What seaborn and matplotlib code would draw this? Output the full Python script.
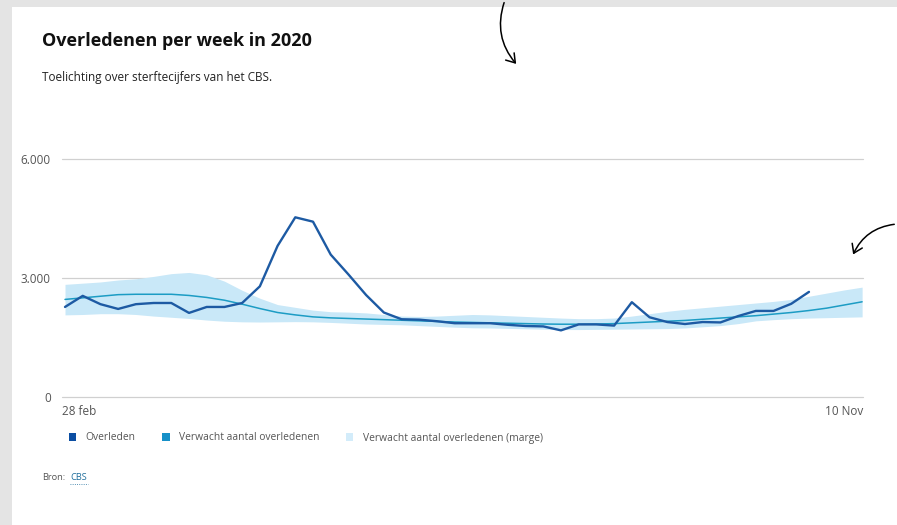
import numpy as np
import pandas as pd
import seaborn as sns
import matplotlib.pyplot as plt
from matplotlib.patches import Patch, Rectangle, FancyArrowPatch
from matplotlib.lines import Line2D

# weekly values
overleden = [2270, 2550, 2340, 2220, 2340, 2370, 2370, 2120, 2270, 2270,
             2370, 2790, 3810, 4530, 4420, 3590, 3090, 2570, 2130, 1960,
             1950, 1910, 1860, 1860, 1860, 1820, 1790, 1780, 1680, 1830,
             1830, 1800, 2390, 2010, 1890, 1840, 1890, 1880, 2040, 2170,
             2170, 2350, 2650]
verwacht = [2460, 2500, 2540, 2580, 2590, 2590, 2590, 2560, 2510, 2440,
            2340, 2230, 2130, 2070, 2020, 1995, 1980, 1965, 1950, 1935,
            1920, 1905, 1890, 1880, 1870, 1860, 1850, 1840, 1835, 1835,
            1840, 1850, 1870, 1890, 1910, 1930, 1960, 1990, 2020, 2050,
            2090, 2130, 2180, 2240, 2320, 2400]
marge_hoog = [2840, 2870, 2900, 2950, 2980, 3040, 3110, 3140, 3080, 2920,
              2690, 2490, 2330, 2260, 2190, 2150, 2140, 2120, 2080, 2040,
              2030, 2040, 2060, 2080, 2070, 2050, 2030, 2010, 1990, 1975,
              1975, 1990, 2040, 2100, 2160, 2210, 2250, 2290, 2330, 2370,
              2410, 2460, 2540, 2620, 2700, 2770]
marge_laag = [2070, 2080, 2100, 2100, 2080, 2040, 2010, 1980, 1940, 1910,
              1895, 1890, 1895, 1900, 1895, 1880, 1860, 1840, 1830, 1820,
              1800, 1780, 1760, 1745, 1740, 1730, 1720, 1710, 1700, 1700,
              1705, 1710, 1715, 1720, 1725, 1740, 1770, 1800, 1850, 1920,
              1950, 1975, 1990, 2000, 2010, 2020]
x_labels = ['28 feb', '10 Nov']
y_ticks = [0, 3000, 6000]
legend_labels = ['Overleden', 'Verwacht aantal overledenen',
                 'Verwacht aantal overledenen (marge)']

c_obs = '#1d5aa3'
c_exp = '#1c9cc4'
c_band = '#c9e8f8'
c_text = '#555555'

weeks = np.arange(len(verwacht))
df_exp = pd.DataFrame({'week': weeks, 'verwacht': verwacht,
                       'laag': marge_laag, 'hoog': marge_hoog})
df_obs = pd.DataFrame({'week': weeks[:len(overleden)], 'overleden': overleden})

sns.set_theme(style='white')
plt.rcParams['font.family'] = ['Open Sans', 'DejaVu Sans']

fig = plt.figure(figsize=(8.97, 5.25), dpi=100, facecolor='#e4e4e4')
fig.patches.append(Rectangle((12 / 897, 0), 1, 518 / 525, transform=fig.transFigure,
                             facecolor='white', edgecolor='none', zorder=-1))
ax = fig.add_axes([62 / 897, 128 / 525, 801 / 897, 238 / 525])

ax.fill_between(df_exp['week'], df_exp['laag'], df_exp['hoog'],
                color=c_band, linewidth=0, zorder=1)
sns.lineplot(data=df_exp, x='week', y='verwacht', color=c_exp, linewidth=1.1,
             ax=ax, zorder=2)
sns.lineplot(data=df_obs, x='week', y='overleden', color=c_obs, linewidth=1.7,
             ax=ax, zorder=3)

xmin, xmax = -0.17, weeks[-1] + 0.05
ax.set_xlim(xmin, xmax)
ax.set_ylim(0, 6000)
ax.set_yticks(y_ticks, [f'{v:,}'.replace(',', '.') for v in y_ticks])
ax.set_xticks([xmin, xmax], x_labels)
for lab, ha in zip(ax.get_xticklabels(), ['left', 'right']):
    lab.set_ha(ha)
ax.yaxis.grid(True, color='#d0d0d0', linewidth=0.9)
for gl in ax.get_ygridlines():
    gl.set_clip_on(False)
ax.set_axisbelow(True)
sns.despine(ax=ax, left=True, bottom=True)
ax.tick_params(axis='both', length=0, labelsize=8.5, labelcolor=c_text)
ax.tick_params(axis='y', pad=8)
ax.tick_params(axis='x', pad=6)
ax.set_xlabel('')
ax.set_ylabel('')

fig.text(42 / 897, 1 - 41 / 525, 'Overledenen per week in 2020', fontsize=13,
         fontweight='bold', color='#111111', va='center')
fig.text(42 / 897, 1 - 78 / 525, 'Toelichting over sterftecijfers van het CBS.',
         fontsize=8.5, color='#222222', va='center')

handles = [Patch(facecolor=c, edgecolor='none') for c in ['#0b4ea2', '#1690c8', '#d3ecfa']]
fig.legend(handles, legend_labels, loc='center left',
           bbox_to_anchor=(60 / 897, 1 - 438 / 525), ncol=3, frameon=False,
           fontsize=7.4, labelcolor=c_text, handlelength=0.7, handleheight=0.7,
           handletextpad=0.9, columnspacing=2.6)

fig.text(42 / 897, 1 - 477 / 525, 'Bron:', fontsize=6.7, color=c_text, va='center')
fig.text(70 / 897, 1 - 477 / 525, 'CBS', fontsize=6.7, color='#1f6e9c', va='center')
fig.lines.append(Line2D([70 / 897, 88 / 897], [1 - 484 / 525] * 2, transform=fig.transFigure,
                        color='#1f6e9c', linewidth=0.6, linestyle=':'))

# hand-drawn arrows
fig.patches.append(FancyArrowPatch((505 / 897, 1.0), (518 / 897, 1 - 66 / 525),
                                   transform=fig.transFigure, connectionstyle='arc3,rad=0.3',
                                   arrowstyle='->,head_length=6,head_width=4',
                                   color='black', linewidth=1.1))
fig.patches.append(FancyArrowPatch((897 / 897, 1 - 224 / 525), (852 / 897, 1 - 257 / 525),
                                   transform=fig.transFigure, connectionstyle='arc3,rad=0.3',
                                   arrowstyle='->,head_length=6,head_width=4',
                                   color='black', linewidth=1.1))

fig.savefig('out.png', dpi=100, facecolor=fig.get_facecolor())
